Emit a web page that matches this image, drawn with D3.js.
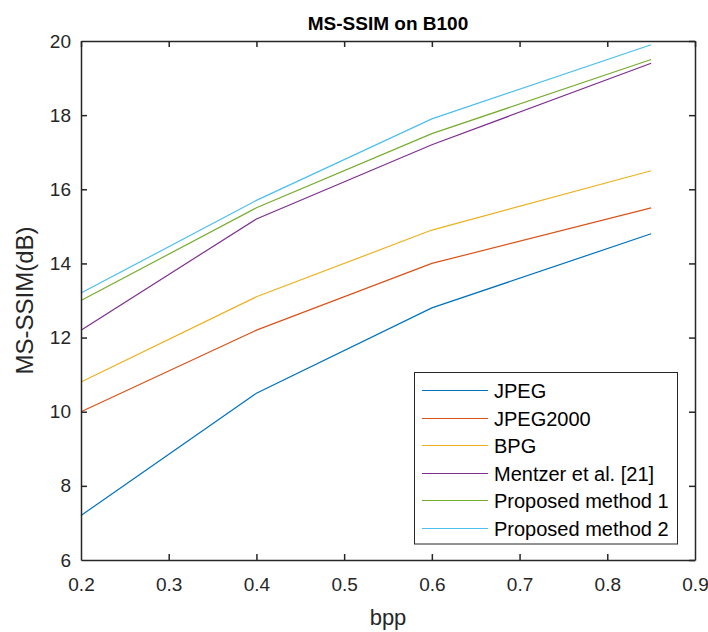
<!DOCTYPE html>
<html><head><meta charset="utf-8">
<script src="https://cdn.jsdelivr.net/npm/d3@7"></script>
<style>body{margin:0;background:#fff}</style>
</head><body>
<svg id="c" width="708" height="632"></svg>
<script>
const bpp = [0.2, 0.4, 0.6, 0.85];
const seriesNames = ["JPEG","JPEG2000","BPG","Mentzer et al. [21]","Proposed method 1","Proposed method 2"];
const jpeg = [7.2, 10.5, 12.8, 14.8];
const jpeg2000 = [10.0, 12.2, 14.0, 15.5];
const bpg = [10.8, 13.1, 14.9, 16.5];
const mentzer = [12.2, 15.2, 17.2, 19.4];
const proposed1 = [13.0, 15.5, 17.5, 19.5];
const proposed2 = [13.2, 15.7, 17.9, 19.9];
const xTicks = [0.2,0.3,0.4,0.5,0.6,0.7,0.8,0.9];
const yTicks = [6,8,10,12,14,16,18,20];
const colors = ["#0072BD","#D95319","#EDB120","#7E2F8E","#77AC30","#4DBEEE"];
const allSeries = [jpeg,jpeg2000,bpg,mentzer,proposed1,proposed2];

const svg = d3.select("#c");
const L=81, R=695, T=41, B=560;
const font = "'Liberation Sans', Arial, Helvetica, sans-serif";
const x = d3.scaleLinear().domain([0.2,0.9]).range([L,R]);
const y = d3.scaleLinear().domain([6,20]).range([B,T]);
const axCol = "#262626";

// lines
const line = d3.line().x((d,i)=>x(bpp[i])).y(d=>y(d));
allSeries.forEach((s,i)=>{
  svg.append("path").attr("d",line(s)).attr("fill","none")
    .attr("stroke",colors[i]).attr("stroke-width",1.2);
});

// axes
const gx = svg.append("g").attr("transform",`translate(0,${B})`)
  .call(d3.axisBottom(x).tickValues(xTicks).tickFormat(d3.format(".1f")).tickSizeInner(-6).tickSizeOuter(0).tickPadding(18));
const gxt = svg.append("g").attr("transform",`translate(0,${T})`)
  .call(d3.axisTop(x).tickValues(xTicks).tickFormat("").tickSizeInner(-6).tickSizeOuter(0));
const gy = svg.append("g").attr("transform",`translate(${L},0)`)
  .call(d3.axisLeft(y).tickValues(yTicks).tickFormat(d3.format("d")).tickSizeInner(-6).tickSizeOuter(0).tickPadding(10));
const gyr = svg.append("g").attr("transform",`translate(${R},0)`)
  .call(d3.axisRight(y).tickValues(yTicks).tickFormat("").tickSizeInner(-6).tickSizeOuter(0));
[gx,gxt,gy,gyr].forEach(g=>{
  g.selectAll(".domain").attr("stroke",axCol).attr("stroke-width",1.5);
  g.selectAll(".tick line").attr("stroke",axCol).attr("stroke-width",1.5);
  g.selectAll("text").attr("fill",axCol).style("font-family",font).style("font-size","19px");
});
gx.selectAll(".tick").filter(d=>d===0.9||d===0.2).select("line").remove();
gy.selectAll(".tick").filter(d=>d===6||d===20).select("line").remove();

// title and labels
svg.append("text").attr("x",(L+R)/2).attr("y",30).attr("text-anchor","middle")
  .style("font-family",font).style("font-size","19px").style("font-weight","bold").attr("fill","#000")
  .text("MS-SSIM on B100");
svg.append("text").attr("x",(L+R)/2).attr("y",625).attr("text-anchor","middle")
  .style("font-family",font).style("font-size","22px").attr("fill",axCol).text("bpp");
svg.append("text").attr("transform",`translate(33,${(T+B)/2}) rotate(-90)`).attr("text-anchor","middle")
  .style("font-family",font).style("font-size","24px").attr("fill",axCol).text("MS-SSIM(dB)");

// legend
const lg = svg.append("g");
lg.append("rect").attr("x",414.5).attr("y",372.5).attr("width",263).attr("height",171.5)
  .attr("fill","#fff").attr("stroke","#262626").attr("stroke-width",1);
seriesNames.forEach((n,i)=>{
  const yy = Math.round(390 + i*27.5) + 0.5;
  lg.append("line").attr("x1",422).attr("x2",488).attr("y1",yy).attr("y2",yy)
    .attr("stroke",colors[i]).attr("stroke-width",1.2);
  lg.append("text").attr("x",494).attr("y",yy+7).style("font-family",font).style("font-size","20px")
    .attr("fill","#000").text(n);
});
</script>
</body></html>
